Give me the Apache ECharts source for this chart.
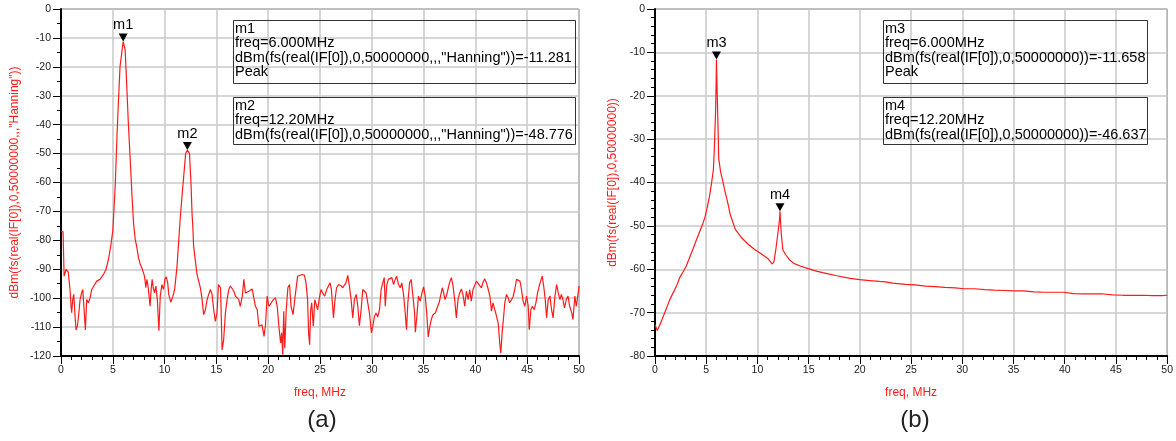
<!DOCTYPE html>
<html>
<head>
<meta charset="utf-8">
<title>spectrum</title>
<script src="https://cdn.jsdelivr.net/npm/echarts@6/dist/echarts.min.js"></script>
<style>
    html, body { margin: 0; padding: 0; background: #fff; }
    #main { width: 1176px; height: 441px; }
</style>
</head>
<body>
<div id="main"></div>
<script>
/**
 * (a) 加 Hanning 窗的频谱, 频率 MHz / 幅度 dBm
 */
var freqA = [0, 0.2, 0.3, 0.5, 0.7, 0.87, 0.97, 1.03, 1.13, 1.23, 1.35, 1.45, 1.58, 1.7, 1.84, 2.0, 2.1, 2.23, 2.35, 2.48,
    2.65, 2.8, 2.97, 3.2, 3.45, 3.77, 3.94, 4.1, 4.35, 4.58, 4.8, 5.0, 5.06, 5.23, 5.39, 5.55, 5.7, 6.0, 6.19, 6.35,
    6.5, 6.68, 6.84, 7.0, 7.16, 7.3, 7.48, 7.65, 7.8, 7.97, 8.06, 8.19, 8.29, 8.4, 8.5, 8.6, 8.7, 8.8, 8.9, 9.03,
    9.16, 9.3, 9.45, 9.58, 9.74, 9.9, 10.03, 10.16, 10.3, 10.4, 10.6, 10.8, 10.97, 11.2, 11.35, 11.5, 11.65, 11.84, 12.03, 12.2,
    12.4, 12.55, 12.65, 12.72, 12.8, 12.97, 13.13, 13.3, 13.45, 13.6, 13.77, 13.94, 14.1, 14.26, 14.42, 14.58, 14.74, 14.9, 15.06, 15.2,
    15.4, 15.55, 15.7, 15.87, 16.03, 16.2, 16.35, 16.52, 16.68, 16.84, 17.0, 17.16, 17.3, 17.5, 17.65, 17.8, 17.97, 18.13, 18.3, 18.45,
    18.6, 18.77, 18.94, 19.1, 19.26, 19.4, 19.6, 19.74, 19.9, 20.06, 20.3, 20.5, 20.7, 20.87, 21.03, 21.2, 21.3, 21.4, 21.5, 21.6,
    21.74, 21.9, 22.06, 22.2, 22.4, 22.6, 22.84, 23.0, 23.26, 23.5, 23.65, 23.8, 23.9, 24.0, 24.1, 24.2, 24.35, 24.5, 24.6, 24.77,
    24.94, 25.1, 25.26, 25.45, 25.65, 25.8, 25.97, 26.1, 26.3, 26.45, 26.6, 26.8, 27.0, 27.2, 27.35, 27.5, 27.68, 27.84, 28.0, 28.16,
    28.32, 28.5, 28.65, 28.8, 28.97, 29.13, 29.3, 29.45, 29.6, 29.77, 29.97, 30.1, 30.26, 30.4, 30.58, 30.74, 30.9, 31.06, 31.2, 31.3,
    31.45, 31.6, 31.77, 31.94, 32.1, 32.26, 32.4, 32.58, 32.74, 32.9, 33.06, 33.2, 33.35, 33.48, 33.65, 33.8, 33.97, 34.13, 34.2, 34.35,
    34.5, 34.68, 34.84, 35.0, 35.16, 35.3, 35.45, 35.58, 35.74, 35.9, 36.13, 36.3, 36.5, 36.65, 36.8, 36.94, 37.06, 37.2, 37.35, 37.5,
    37.68, 37.84, 38.0, 38.16, 38.32, 38.48, 38.65, 38.8, 38.97, 39.13, 39.3, 39.45, 39.6, 39.77, 39.94, 40.1, 40.26, 40.4, 40.58, 40.74,
    40.9, 41.06, 41.2, 41.4, 41.55, 41.7, 41.87, 42.0, 42.2, 42.35, 42.45, 42.58, 42.7, 42.84, 43.0, 43.16, 43.3, 43.5, 43.65, 43.8,
    43.97, 44.1, 44.3, 44.45, 44.6, 44.77, 44.94, 45.1, 45.2, 45.35, 45.5, 45.68, 45.84, 46.0, 46.16, 46.3, 46.45, 46.6, 46.74, 46.87,
    47.03, 47.2, 47.35, 47.5, 47.68, 47.84, 48.0, 48.16, 48.3, 48.45, 48.6, 48.77, 48.94, 49.1, 49.3, 49.42, 49.6, 49.74, 49.9, 50.0];
var dbmA = [-77, -77, -92.4, -90, -91, -97, -102.8, -105, -100.5, -98.7, -105.7, -111, -109.7, -106, -100.5, -98, -97, -104, -111, -100.5,
    -101.6, -100, -97, -95.6, -94.1, -93.5, -93.9, -91.8, -90, -86.6, -82, -76.7, -73, -61.4, -45.2, -31.4, -19.8, -11.281, -14, -26.8,
    -39.4, -52, -63.7, -74, -79.6, -82, -86, -88.3, -89.5, -90, -92.4, -96.4, -93.5, -95.8, -99.3, -102.8, -97, -93.5, -96.4, -98.2,
    -95.8, -100.5, -111.3, -99.3, -95.3, -97, -93.5, -92.6, -94.7, -98.7, -101.4, -99.3, -97, -88.9, -80.8, -72.7, -66, -58, -50, -48.776,
    -50, -60.4, -70.8, -75, -82, -87.1, -91.8, -92.4, -96.4, -99.9, -105.7, -104, -100.5, -98.7, -97, -98.7, -104, -108, -105, -95.3,
    -96.4, -117.9, -114.4, -105.1, -100.5, -97, -95.8, -96.4, -97.6, -99.3, -98.7, -100.5, -102.8, -99.3, -93.5, -98.2, -98.7, -97.6, -97, -96.8,
    -96.4, -102.8, -104, -109.7, -110.3, -109.2, -113.2, -109.2, -99.3, -102.8, -101.6, -100.5, -99.9, -102.8, -109.7, -115.5, -112, -119.6, -104.5, -117.3,
    -104, -96.4, -95.3, -102.8, -105.7, -99.3, -92.4, -92.1, -91.8, -92.1, -94.7, -100.5, -112, -116.1, -104, -101.6, -109.7, -100.5, -99.9, -104,
    -99.9, -97, -98.2, -99.3, -97, -96.4, -94.7, -97, -106.8, -100.5, -96.4, -95.3, -95.6, -96.4, -96.8, -94.7, -92.1, -95.8, -100.5, -106.8,
    -100.5, -98.7, -102.8, -109.5, -104, -97, -97.2, -98.2, -98.2, -105.1, -112, -109.7, -106.3, -105.1, -106.5, -104, -97, -94.7, -92.9, -102.8,
    -95.3, -93.5, -94.1, -92.9, -95.3, -93.5, -92.4, -95.3, -96.4, -94.7, -98.7, -104, -110.9, -101.6, -94.7, -93.5, -99.3, -105.1, -111.8, -106.3,
    -99.3, -101, -98.2, -96.1, -99.3, -105.1, -113.4, -110.3, -107.4, -105.7, -105.1, -103.4, -101.6, -101, -96.4, -98.2, -100.5, -99.3, -97, -94.7,
    -92.9, -95.8, -100.5, -106.8, -100.5, -98.2, -96.8, -98.7, -102.8, -97.6, -100.5, -97, -101, -97, -96.4, -94.1, -94.7, -95.6, -96.4, -94.5,
    -93.3, -94.7, -96.4, -99.3, -104.5, -101.6, -104, -105.7, -108.6, -115.5, -119, -112, -107.4, -101.6, -98.7, -99.9, -101.6, -100.5, -99.3, -97,
    -93.5, -92.9, -94.1, -97, -101, -102.8, -99.3, -102.8, -110.9, -104, -102.8, -104, -101.6, -98.2, -95.8, -94.1, -92.4, -96.1, -100.5, -106.8,
    -100.5, -99.3, -104, -106.8, -99.3, -95.3, -98.2, -100.5, -98.7, -100.5, -103.4, -100.5, -99.3, -102.8, -105.1, -107.4, -99.3, -102.8, -98.7, -95.8];

/**
 * (b) 不加窗的频谱
 */
var freqB = [0, 0.22, 0.48, 0.8, 1.12, 1.44, 1.76, 2.08, 2.4, 2.72, 3.04, 3.36, 3.68, 4.0, 4.32, 4.64, 4.9, 5.12, 5.3, 5.5,
    5.7, 5.78, 5.85, 5.92, 5.96, 6.0, 6.04, 6.1, 6.16, 6.22, 6.4, 6.6, 6.88, 7.04, 7.36, 7.84, 8.48, 9.12, 9.76, 10.4,
    11.04, 11.46, 11.62, 11.84, 12.0, 12.16, 12.2, 12.32, 12.48, 12.74, 13.12, 13.6, 14.24, 14.88, 15.84, 16.8, 17.76, 19.04, 20.0, 20.96,
    21.92, 22.5, 23.2, 24.45, 25.4, 26.4, 27.35, 28.3, 29.3, 30.2, 31.2, 32.2, 33.1, 34.1, 35.06, 36.0, 37.0, 37.96, 38.9, 39.9,
    40.85, 41.8, 42.8, 43.75, 44.7, 45.7, 46.6, 47.6, 48.6, 49.5, 50.0];
var dbmB = [-72.8, -74.1, -72.8, -70.9, -69, -67, -65.5, -64, -62, -60.7, -59.3, -57.4, -55.5, -53.5, -51.6, -49.7, -47.8, -45.5, -43.5, -40.5,
    -37, -33, -28, -23.2, -18, -11.658, -16.5, -22, -28, -34.5, -37.5, -39.5, -42.5, -44, -47.5, -50.8, -52.8, -54.3, -55.5, -56.5,
    -57.6, -58.8, -58.2, -54.7, -51.6, -48.5, -46.637, -51.6, -55.5, -56.6, -57.8, -58.7, -59.3, -59.8, -60.5, -61, -61.5, -62.1, -62.4, -62.6,
    -62.8, -62.9, -63.2, -63.5, -63.6, -63.9, -64, -64.2, -64.3, -64.5, -64.5, -64.7, -64.8, -64.9, -65, -65, -65.2, -65.3, -65.3, -65.3,
    -65.6, -65.7, -65.7, -65.7, -65.9, -66, -66, -66, -66.1, -66.1, -66];

/**
 * 标记点 m1..m4
 */
var markerNames = ['m1', 'm2', 'm3', 'm4'];
var markerFreq = [6.0, 12.2, 6.0, 12.2];
var markerVal = [-11.281, -48.776, -11.658, -46.637];
var markerExpr = ['dBm(fs(real(IF[0]),0,50000000,,,"Hanning"))', 'dBm(fs(real(IF[0]),0,50000000,,,"Hanning"))',
    'dBm(fs(real(IF[0]),0,50000000))', 'dBm(fs(real(IF[0]),0,50000000))'];
var markerPeak = [true, false, true, false];

var yNames = ['dBm(fs(real(IF[0]),0,50000000,,,"Hanning"))', 'dBm(fs(real(IF[0]),0,50000000))'];
var xName = 'freq, MHz';
var yMin = [-120, -80];
var captions = ['(a)', '(b)'];

var FONT = '"Liberation Sans", Arial, sans-serif';
var RED = '#ff1a1a';

var chart = echarts.init(document.getElementById('main'));

function pairs(xs, ys) {
    return xs.map(function (x, i) { return [x, ys[i]]; });
}

function xAxisOf(idx) {
    return {
        gridIndex: idx,
        type: 'value',
        min: 0,
        max: 50,
        interval: 5,
        name: xName,
        nameLocation: 'middle',
        nameGap: 31,
        nameTextStyle: { color: RED, fontSize: 12, fontFamily: FONT },
        axisLine: { show: true, onZero: false, lineStyle: { color: '#000', width: 2 } },
        axisTick: { show: true, length: 8, lineStyle: { color: '#000', width: 1 } },
        minorTick: { show: true, splitNumber: 5, length: 4, lineStyle: { color: '#000', width: 1 } },
        axisLabel: { color: '#222', fontSize: 10.5, fontFamily: FONT, margin: 9 },
        splitLine: { show: true, lineStyle: { color: '#c8c8c8', width: 1.5 } }
    };
}

function yAxisOf(idx) {
    return {
        gridIndex: idx,
        type: 'value',
        min: yMin[idx],
        max: 0,
        interval: 10,
        name: yNames[idx],
        nameLocation: 'middle',
        nameGap: idx === 0 ? 40 : 36,
        nameTextStyle: { color: RED, fontSize: 12, fontFamily: FONT },
        axisLine: { show: true, onZero: false, lineStyle: { color: '#000', width: 2 } },
        axisTick: { show: true, length: 8, lineStyle: { color: '#000', width: 1 } },
        minorTick: { show: true, splitNumber: idx === 0 ? 2 : 5, length: 4, lineStyle: { color: '#000', width: 1 } },
        axisLabel: { color: '#222', fontSize: 10.5, fontFamily: FONT, margin: 10 },
        splitLine: { show: true, lineStyle: { color: '#c8c8c8', width: 1.5 } }
    };
}

function markOf(list) {
    return {
        symbol: 'triangle',
        symbolSize: [9, 8],
        symbolRotate: 180,
        symbolOffset: [0, -4],
        itemStyle: { color: '#000' },
        label: { show: true, position: 'top', distance: 1, formatter: '{b}', color: '#000', fontSize: 14.5, fontFamily: FONT },
        data: list.map(function (i) {
            return { name: markerNames[i], coord: [markerFreq[i], markerVal[i]] };
        })
    };
}

/**
 * 标记信息框
 */
function boxText(i) {
    var lines = [markerNames[i], 'freq=' + markerFreq[i].toPrecision(4) + 'MHz', markerExpr[i] + '=' + markerVal[i].toFixed(3)];
    if (markerPeak[i]) lines.push('Peak');
    return lines.join('\n');
}

function boxes() {
    var items = [];
    var lefts = [233, 233, 883, 883];
    var widths = [342, 342, 264, 264];
    var tops = [20, 97, 20, 97];
    var heights = [63, 47, 63, 47];
    for (var i = 0; i < 4; i++) {
        items.push({
            type: 'rect', z: 10,
            shape: { x: lefts[i] + 0.5, y: tops[i] + 0.5, width: widths[i], height: heights[i] },
            style: { fill: 'rgba(255,255,255,0)', stroke: '#333', lineWidth: 1 }
        });
        items.push({
            type: 'text', z: 11,
            x: lefts[i] + 2, y: tops[i] + 2,
            style: { text: boxText(i), fill: '#000', font: '14.5px ' + FONT, lineHeight: 14.3 }
        });
    }
    var capX = [322, 915];
    for (var k = 0; k < 2; k++) {
        items.push({
            type: 'text',
            x: capX[k], y: 420,
            style: { text: captions[k], fill: '#222', font: '24px ' + FONT, align: 'center', verticalAlign: 'middle' }
        });
    }
    return items;
}

var option = {
    backgroundColor: '#fff',
    animation: false,
    grid: [
        { left: 61, top: 9, width: 518, height: 347, show: true, borderColor: '#444', borderWidth: 1, backgroundColor: '#fff' },
        { left: 655, top: 9, width: 519, height: 347, show: true, borderColor: '#444', borderWidth: 1, backgroundColor: '#fff' }
    ],
    xAxis: [xAxisOf(0), xAxisOf(1)],
    yAxis: [yAxisOf(0), yAxisOf(1)],
    series: [
        {
            type: 'line', xAxisIndex: 0, yAxisIndex: 0,
            data: pairs(freqA, dbmA),
            showSymbol: false,
            lineStyle: { color: RED, width: 1.2 },
            markPoint: markOf([0, 1])
        },
        {
            type: 'line', xAxisIndex: 1, yAxisIndex: 1,
            data: pairs(freqB, dbmB),
            showSymbol: false,
            lineStyle: { color: RED, width: 1.2 },
            markPoint: markOf([2, 3])
        }
    ],
    graphic: boxes()
};

chart.setOption(option);
</script>
</body>
</html>
